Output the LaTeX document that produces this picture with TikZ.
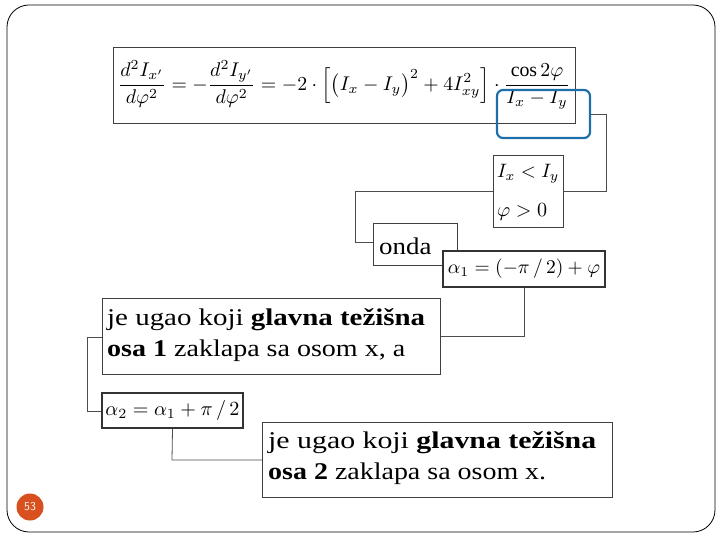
\documentclass[tikz,border=0pt]{standalone}
\usepackage{fontspec}
\setmainfont{Liberation Serif}
\usepackage{amsmath}
\usepackage{graphicx}
\begin{document}
\begin{tikzpicture}[x=1pt,y=-1pt,
  box/.style={draw=black!75,line width=0.8pt,fill=white,inner sep=0pt},
  thick box/.style={draw=black!80,line width=1.8pt,fill=white,inner sep=0pt},
  conn/.style={draw=black!70,line width=0.8pt},
  txt/.style={anchor=north west,align=left,font=\fontsize{24}{31}\selectfont,inner sep=0pt}]
\useasboundingbox (0,0) rectangle (720,540);
\draw[black,line width=0.8pt,rounded corners=22pt] (7,5) rectangle (715,532);
% formula
\node[box,minimum width=462pt,minimum height=76pt] (f) at (344,85)
 {\resizebox{452pt}{!}{$\dfrac{d^2I_{x'}}{d\varphi^2}=-\dfrac{d^2I_{y'}}{d\varphi^2}=-2\cdot\Bigl[\bigl(I_x-I_y\bigr)^2+4I_{xy}^2\Bigr]\cdot\dfrac{\cos 2\varphi}{I_x-I_y}$}};
\node[draw={rgb,255:red,30;green,110;blue,170},line width=2.2pt,rounded corners=6pt,minimum width=93pt,minimum height=48pt] (hl) at (543.5,114) {};
% condition
\node[box,minimum width=70pt,minimum height=72pt] (c) at (528,191) {};
\node[anchor=west,inner sep=0pt] (c1) at (497,174) {\resizebox{62pt}{!}{$I_x<I_y$}};
\node[anchor=west,inner sep=0pt] (c2) at (497,212) {\resizebox{50pt}{!}{$\varphi>0$}};
\draw[conn] (hl.east) -- (606,114) -- (606,191) -- (c.east);
\node[box,minimum width=84pt,minimum height=42pt,anchor=north west] (onda) at (373,223) {};
\node[anchor=west,inner sep=0pt,font=\fontsize{24}{26}\selectfont] (ondat) at (379,246) {\scalebox{1.12}[1]{onda}};
\draw[conn] (c.west) -- (355,191) -- (355,242) -- (onda.west |- 0,242);
\node[thick box,minimum width=162pt,minimum height=36pt] (a1) at (524,269)
 {\resizebox{152pt}{!}{$\alpha_1=(-\pi\,/\,2)+\varphi$}};
% text1
\node[box,minimum width=338pt,minimum height=76pt,anchor=north west] (t1) at (102,298) {};
\node[txt] (t1a) at (107,308) {\resizebox{318pt}{\height}{je ugao koji \textbf{glavna težišna}}};
\node[txt] (t1b) at (107,340) {\resizebox{298pt}{\height}{\textbf{osa 1} zaklapa sa osom x, a}};
\draw[conn] (a1.south) -- (524,336) -- (t1.east |- 0,336);
\node[thick box,minimum width=141pt,minimum height=35pt] (a2) at (172.5,410.5)
 {\resizebox{134pt}{!}{$\alpha_2=\alpha_1+\pi\,/\,2$}};
\draw[conn] (t1.west |- 0,337) -- (87,337) -- (87,411) -- (a2.west |- 0,411);
% text2
\node[box,minimum width=350pt,minimum height=75pt,anchor=north west] (t2) at (262,422) {};
\node[txt] (t2a) at (268,431) {\resizebox{328pt}{\height}{je ugao koji \textbf{glavna težišna}}};
\node[txt] (t2b) at (268,463) {\resizebox{278pt}{\height}{\textbf{osa 2} zaklapa sa osom x.}};
\draw[conn] (a2.south) -- (172,460) -- (t2.west |- 0,460);
% page number
\node[circle,fill={rgb,255:red,215;green,80;blue,30},minimum size=27pt,inner sep=0pt,text=white,font=\sffamily\fontsize{12}{12}\selectfont] (pn) at (30,507) {53};
\end{tikzpicture}
\end{document}
